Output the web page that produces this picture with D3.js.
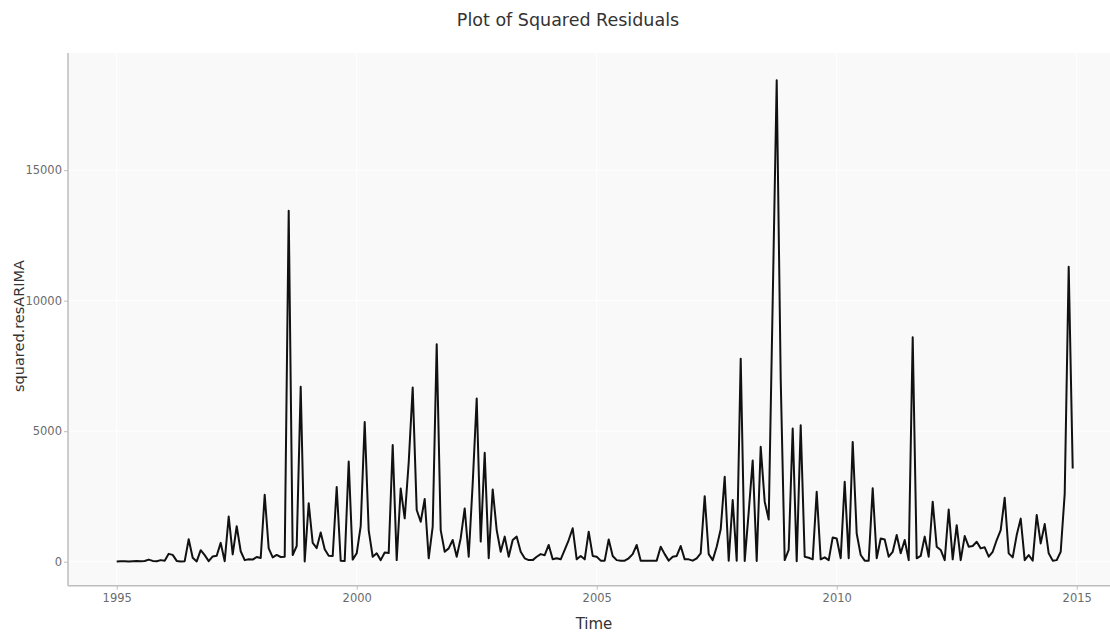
<!DOCTYPE html>
<html>
<head>
<meta charset="utf-8">
<script src="https://cdn.jsdelivr.net/npm/d3@7"></script>
<style>
  html, body { margin: 0; padding: 0; background: #ffffff; }
  svg { display: block; }
</style>
</head>
<body>
<svg id="chart" width="1110" height="633"></svg>
<script>
// Monthly series, Jan 1995 .. Dec 2014
const startYear = 1995;
const squaredResARIMA = [
  10, 20, 15, 10, 20, 30, 15, 25, 80, 30, 20, 60,
  40, 300, 260, 30, 10, 20, 860, 150, 10, 440, 250, 20,
  200, 230, 720, 20, 1730, 280, 1360, 400, 60, 90, 80, 180,
  140, 2560, 510, 165, 260, 180, 190, 13450, 255, 600, 6700, 10,
  2240, 720, 520, 1120, 480, 230, 220, 2860, 40, 30, 3840, 80,
  320, 1360, 5350, 1200, 190, 320, 60, 350, 330, 4470, 60, 2800,
  1660, 3800, 6670, 1980, 1530, 2400, 130, 1340, 8330, 1210, 380, 510,
  830, 190, 900, 2040, 190, 3000, 6250, 770, 4170, 130, 2770, 1210,
  380, 960, 190, 830, 960, 380, 130, 60, 60, 190, 290, 250,
  640, 90, 130, 90, 450, 830, 1280, 90, 220, 90, 1150, 220,
  190, 40, 40, 850, 220, 60, 40, 40, 130, 290, 640, 40,
  40, 40, 40, 40, 570, 290, 40, 190, 220, 600, 90, 90,
  40, 130, 320, 2510, 290, 60, 570, 1240, 3250, 40, 2360, 40,
  7780, 30, 1900, 3880, 30, 4400, 2300, 1620, 10000, 18450, 7000, 60,
  450, 5100, 20, 5230, 190, 150, 90, 2680, 90, 165, 60, 930,
  890, 130, 3060, 130, 4590, 1080, 255, 40, 40, 2810, 130, 890,
  850, 190, 380, 1020, 320, 830, 60, 8600, 130, 220, 960, 190,
  2300, 575, 450, 60, 2000, 90, 1400, 60, 980, 575, 600, 765,
  510, 550, 190, 380, 830, 1210, 2450, 320, 165, 1020, 1650, 60,
  255, 40, 1790, 700, 1440, 320, 40, 60, 380, 2600, 11300, 3570
];
const xTicks = [1995, 2000, 2005, 2010, 2015];
const yTicks = [0, 5000, 10000, 15000];
const titleText = "Plot of Squared Residuals";
const xTitle = "Time";
const yTitle = "squared.resARIMA";

const data = squaredResARIMA.map((v, i) => ({ t: startYear + i / 12, v }));

const svg = d3.select("#chart");
const panel = { left: 68, top: 53, right: 1120, bottom: 585.7 };

const x = d3.scaleLinear().domain([1995, 2015]).range([116.7, 1076.7]);
const y = d3.scaleLinear().domain([-920, 19490]).range([panel.bottom, panel.top]);

const font = "'DejaVu Sans', Verdana, sans-serif";

// panel background
svg.append("rect")
  .attr("x", panel.left).attr("y", panel.top)
  .attr("width", panel.right - panel.left).attr("height", panel.bottom - panel.top)
  .attr("fill", "#f9f9f9");

// grid lines (white, subtle)
const grid = svg.append("g");
grid.selectAll("line.gx").data(xTicks).enter().append("line")
  .attr("x1", d => x(d)).attr("x2", d => x(d))
  .attr("y1", panel.top).attr("y2", panel.bottom)
  .attr("stroke", "#ffffff").attr("stroke-width", 1);
grid.selectAll("line.gy").data(yTicks).enter().append("line")
  .attr("x1", panel.left).attr("x2", panel.right)
  .attr("y1", d => y(d)).attr("y2", d => y(d))
  .attr("stroke", "#ffffff").attr("stroke-width", 1);

// clip for series
svg.append("clipPath").attr("id", "clip").append("rect")
  .attr("x", panel.left).attr("y", panel.top)
  .attr("width", panel.right - panel.left).attr("height", panel.bottom - panel.top);

// series line
const line = d3.line().x(d => x(d.t)).y(d => y(d.v));
svg.append("path")
  .datum(data)
  .attr("clip-path", "url(#clip)")
  .attr("d", line)
  .attr("fill", "none")
  .attr("stroke", "#111111")
  .attr("stroke-width", 2)
  .attr("stroke-linejoin", "round");

// axes
const xAxis = d3.axisBottom(x).tickValues(xTicks).tickFormat(d3.format("d")).tickSize(4).tickPadding(4);
const yAxis = d3.axisLeft(y).tickValues(yTicks).tickFormat(d3.format("d")).tickSize(4).tickPadding(2);

const gx = svg.append("g").attr("transform", `translate(0,${panel.bottom})`).call(xAxis);
const gy = svg.append("g").attr("transform", `translate(${panel.left},0)`).call(yAxis);

gx.select(".domain").attr("d", `M${panel.left},0H${panel.right}`);
gy.select(".domain").attr("d", `M0,${panel.top}V${panel.bottom}`);
[gx, gy].forEach(g => {
  g.select(".domain").attr("stroke", "#bdbdbd").attr("stroke-width", 1.5);
  g.selectAll(".tick line").attr("stroke", "#bdbdbd").attr("stroke-width", 1);
  g.selectAll(".tick text")
    .attr("fill", "#6b6b6b")
    .style("font-family", font)
    .style("font-size", "11.5px");
});

// title
svg.append("text")
  .attr("x", 568).attr("y", 26)
  .attr("text-anchor", "middle")
  .style("font-family", font).style("font-size", "17.5px")
  .attr("fill", "#333333")
  .text(titleText);

// x title
svg.append("text")
  .attr("x", 594).attr("y", 629)
  .attr("text-anchor", "middle")
  .style("font-family", font).style("font-size", "15px")
  .attr("fill", "#333333")
  .text(xTitle);

// y title
svg.append("text")
  .attr("transform", "translate(24,326) rotate(-90)")
  .attr("text-anchor", "middle")
  .style("font-family", font).style("font-size", "14.5px")
  .attr("fill", "#333333")
  .text(yTitle);
</script>
</body>
</html>
